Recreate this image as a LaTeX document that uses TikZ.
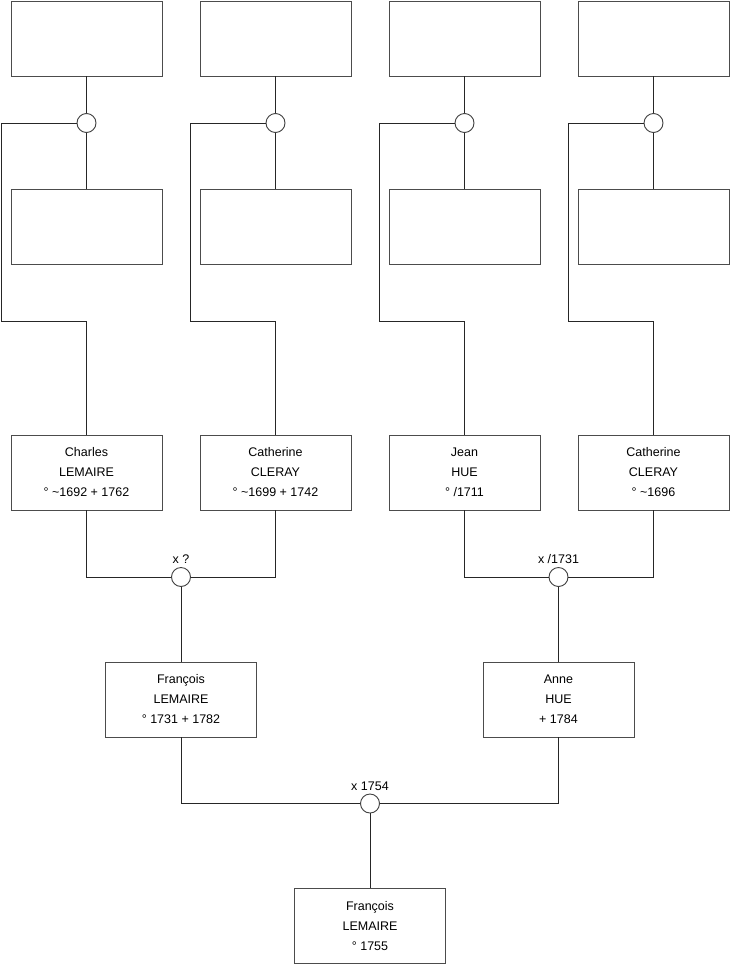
\documentclass[tikz,border=0pt]{standalone}
\usepackage{fontspec}
\setmainfont{Liberation Sans}
\begin{document}
\begin{tikzpicture}[x=1pt,y=-1pt,
  pbox/.style={draw=black!70,fill=white,minimum width=151pt,minimum height=75pt,inner sep=0pt,align=center,font=\fontsize{12.5}{20}\selectfont,line width=0.9pt},
  ring/.style={circle,draw=black!75,fill=white,minimum size=19pt,inner sep=0pt,line width=0.9pt},
  conn/.style={draw=black!85,line width=0.9pt},
  lbl/.style={inner sep=0pt,font=\fontsize{12.5}{15}\selectfont}]
\useasboundingbox[fill=white] (0,0) rectangle (740,975);
% top row boxes
\node[pbox] (a1) at (86.5,38.5) {};
\node[pbox] (a2) at (275.5,38.5) {};
\node[pbox] (a3) at (464.5,38.5) {};
\node[pbox] (a4) at (653.5,38.5) {};
% second row
\node[pbox] (b1) at (86.5,227) {};
\node[pbox] (b2) at (275.5,227) {};
\node[pbox] (b3) at (464.5,227) {};
\node[pbox] (b4) at (653.5,227) {};
% circles
\node[ring] (c1) at (86.5,123) {};
\node[ring] (c2) at (275.5,123) {};
\node[ring] (c3) at (464.5,123) {};
\node[ring] (c4) at (653.5,123) {};
% third row
\node[pbox] (p1) at (86.5,472.5) {Charles\\LEMAIRE\\° \textasciitilde1692 + 1762};
\node[pbox] (p2) at (275.5,472.5) {Catherine\\CLERAY\\° \textasciitilde1699 + 1742};
\node[pbox] (p3) at (464.5,472.5) {Jean\\HUE\\° /1711};
\node[pbox] (p4) at (653.5,472.5) {Catherine\\CLERAY\\° \textasciitilde1696};
% marriage circles
\node[ring] (m1) at (181,577) {};
\node[ring] (m2) at (558.5,577) {};
\node[lbl] (l1) at (181,559) {x ?};
\node[lbl] (l2) at (558.5,559) {x /1731};
% fourth row
\node[pbox] (d1) at (181,699.5) {François\\LEMAIRE\\° 1731 + 1782};
\node[pbox] (d2) at (558.5,699.5) {Anne\\HUE\\+ 1784};
\node[ring] (m3) at (370,803.5) {};
\node[lbl] (l3) at (370,786) {x 1754};
\node[pbox] (e) at (370,926) {François\\LEMAIRE\\° 1755};
% corner coordinates
\coordinate (t1) at (1.5,123); \coordinate (u1) at (1.5,321);
\coordinate (t2) at (190.5,123); \coordinate (u2) at (190.5,321);
\coordinate (t3) at (379.5,123); \coordinate (u3) at (379.5,321);
\coordinate (t4) at (568.5,123); \coordinate (u4) at (568.5,321);
% connectors
\foreach \i in {1,2,3,4}{
  \draw[conn] (a\i) -- (c\i);
  \draw[conn] (c\i) -- (b\i);
  \draw[conn] (c\i) -- (t\i) -- (u\i) -| (p\i.north);
}
\draw[conn] (p1.south) |- (m1);
\draw[conn] (p2.south) |- (m1);
\draw[conn] (m1) -- (d1.north);
\draw[conn] (p3.south) |- (m2);
\draw[conn] (p4.south) |- (m2);
\draw[conn] (m2) -- (d2.north);
\draw[conn] (d1.south) |- (m3);
\draw[conn] (d2.south) |- (m3);
\draw[conn] (m3) -- (e.north);
\end{tikzpicture}
\end{document}
